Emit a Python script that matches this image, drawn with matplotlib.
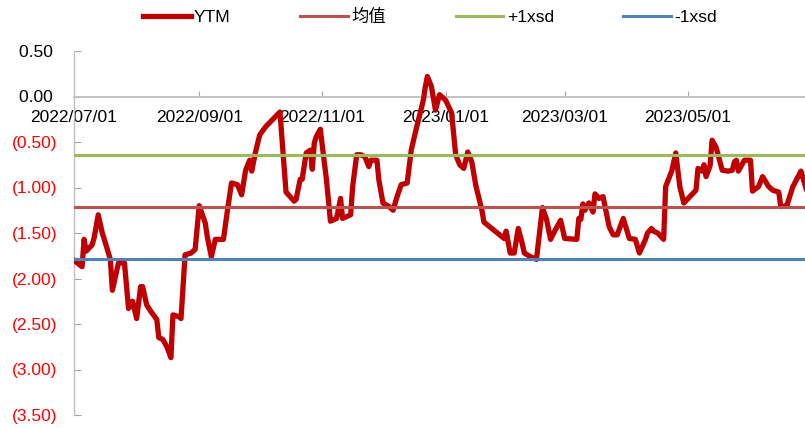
import numpy as np
import pandas as pd
import matplotlib
matplotlib.use("Agg")
import matplotlib.pyplot as plt
import matplotlib.dates as mdates

plt.rcParams["font.family"] = ["Liberation Sans", "Noto Sans CJK SC", "DejaVu Sans"]

# YTM series
dates = ["2022-07-01", "2022-07-05", "2022-07-06", "2022-07-07", "2022-07-10", "2022-07-11",
         "2022-07-13", "2022-07-15", "2022-07-16", "2022-07-19", "2022-07-20", "2022-07-23",
         "2022-07-26", "2022-07-28", "2022-07-30", "2022-08-01", "2022-08-03", "2022-08-04",
         "2022-08-06", "2022-08-08", "2022-08-11", "2022-08-12", "2022-08-14", "2022-08-16",
         "2022-08-18", "2022-08-19", "2022-08-22", "2022-08-23", "2022-08-25", "2022-08-28",
         "2022-08-30", "2022-09-01", "2022-09-04", "2022-09-05", "2022-09-07", "2022-09-09",
         "2022-09-13", "2022-09-15", "2022-09-17", "2022-09-20", "2022-09-22", "2022-09-24",
         "2022-09-26", "2022-09-27", "2022-09-29", "2022-10-01", "2022-10-04", "2022-10-11",
         "2022-10-14", "2022-10-18", "2022-10-19", "2022-10-21", "2022-10-22", "2022-10-24",
         "2022-10-26", "2022-10-27", "2022-10-28", "2022-10-29", "2022-10-31", "2022-11-01",
         "2022-11-03", "2022-11-05", "2022-11-08", "2022-11-10", "2022-11-11", "2022-11-15",
         "2022-11-16", "2022-11-18", "2022-11-20", "2022-11-22", "2022-11-24", "2022-11-25",
         "2022-11-28", "2022-11-29", "2022-12-01", "2022-12-04", "2022-12-06", "2022-12-08",
         "2022-12-10", "2022-12-13", "2022-12-15", "2022-12-17", "2022-12-21", "2022-12-22",
         "2022-12-23", "2022-12-25", "2022-12-27", "2022-12-29", "2023-01-01", "2023-01-04",
         "2023-01-06", "2023-01-08", "2023-01-10", "2023-01-12", "2023-01-14", "2023-01-16",
         "2023-01-19", "2023-01-20", "2023-01-25", "2023-01-30", "2023-01-31", "2023-02-02",
         "2023-02-04", "2023-02-06", "2023-02-08", "2023-02-09", "2023-02-12", "2023-02-15",
         "2023-02-18", "2023-02-20", "2023-02-22", "2023-02-24", "2023-02-27", "2023-03-01",
         "2023-03-07", "2023-03-08", "2023-03-09", "2023-03-10", "2023-03-11", "2023-03-13",
         "2023-03-15", "2023-03-16", "2023-03-18", "2023-03-20", "2023-03-23", "2023-03-25",
         "2023-03-27", "2023-03-30", "2023-04-02", "2023-04-05", "2023-04-07", "2023-04-10",
         "2023-04-11", "2023-04-13", "2023-04-14", "2023-04-16", "2023-04-19", "2023-04-20",
         "2023-04-23", "2023-04-25", "2023-04-27", "2023-04-29", "2023-05-02", "2023-05-05",
         "2023-05-06", "2023-05-08", "2023-05-09", "2023-05-10", "2023-05-12", "2023-05-13",
         "2023-05-15", "2023-05-18", "2023-05-21", "2023-05-23", "2023-05-24", "2023-05-25",
         "2023-05-26", "2023-05-29", "2023-06-01", "2023-06-02", "2023-06-05", "2023-06-07",
         "2023-06-10", "2023-06-12", "2023-06-15", "2023-06-16", "2023-06-19", "2023-06-22",
         "2023-06-26", "2023-06-28", "2023-06-29"]
ytm = [-1.80, -1.87, -1.57, -1.70, -1.63, -1.55,
       -1.30, -1.50, -1.57, -1.79, -2.13, -1.83,
       -1.83, -2.33, -2.25, -2.44, -2.09, -2.09,
       -2.29, -2.36, -2.45, -2.65, -2.67, -2.75,
       -2.87, -2.40, -2.42, -2.44, -1.74, -1.72,
       -1.68, -1.20, -1.39, -1.54, -1.76, -1.57,
       -1.57, -1.25, -0.95, -0.97, -1.08, -0.81,
       -0.70, -0.82, -0.60, -0.42, -0.33, -0.17,
       -1.05, -1.15, -1.13, -0.91, -0.91, -0.62,
       -0.59, -0.80, -0.51, -0.44, -0.36, -0.55,
       -0.91, -1.37, -1.34, -1.12, -1.34, -1.30,
       -0.99, -0.64, -0.64, -0.66, -0.77, -0.70,
       -0.70, -0.92, -1.17, -1.21, -1.25, -1.10,
       -0.97, -0.95, -0.59, -0.40, -0.04, 0.11,
       0.22, 0.11, -0.15, 0.02, -0.04, -0.18,
       -0.64, -0.75, -0.79, -0.61, -0.72, -0.98,
       -1.25, -1.38, -1.47, -1.56, -1.48, -1.72,
       -1.72, -1.45, -1.62, -1.72, -1.76, -1.79,
       -1.22, -1.35, -1.57, -1.48, -1.36, -1.56,
       -1.57, -1.34, -1.35, -1.18, -1.25, -1.17,
       -1.27, -1.07, -1.12, -1.10, -1.43, -1.52,
       -1.52, -1.34, -1.56, -1.57, -1.72, -1.57,
       -1.50, -1.45, -1.48, -1.50, -1.57, -0.99,
       -0.82, -0.62, -0.99, -1.17, -1.10, -1.03,
       -0.79, -0.82, -0.75, -0.88, -0.76, -0.48,
       -0.56, -0.81, -0.82, -0.81, -0.72, -0.70,
       -0.82, -0.70, -0.70, -1.04, -0.99, -0.88,
       -0.99, -1.03, -1.05, -1.21, -1.20, -0.99,
       -0.82, -0.97, -1.05]

mean_val = -1.215
plus_sd = -0.64
minus_sd = -1.79

labels = ["YTM", "均值", "+1xsd", "-1xsd"]
tick_dates = ["2022-07-01", "2022-09-01", "2022-11-01", "2023-01-01", "2023-03-01", "2023-05-01"]
yticks = [0.5, 0.0, -0.5, -1.0, -1.5, -2.0, -2.5, -3.0, -3.5]

x = pd.to_datetime(dates)

fig = plt.figure(figsize=(8.05, 4.28), dpi=100)
ax = fig.add_axes([74/805, 13/428, 731/805, 364/428])

l1, = ax.plot(x, ytm, color="#C00000", lw=3.8, solid_joinstyle="round", zorder=3, label=labels[0])
l2 = ax.axhline(mean_val, color="#C0504D", lw=2.2, zorder=4, label=labels[1])
l3 = ax.axhline(plus_sd, color="#9BBB59", lw=2.2, zorder=4, label=labels[2])
l4 = ax.axhline(minus_sd, color="#4F81BD", lw=2.2, zorder=4, label=labels[3])

ax.set_xlim(pd.Timestamp("2022-07-01"), pd.Timestamp("2023-06-28"))
ax.set_ylim(-3.5, 0.5)

for s in ("top", "right"):
    ax.spines[s].set_visible(False)
ax.spines["bottom"].set_position(("data", 0))
ax.spines["bottom"].set_color("#BFBFBF")
ax.spines["bottom"].set_linewidth(1.3)
ax.spines["left"].set_color("#BFBFBF")
ax.spines["left"].set_linewidth(1.0)

ax.set_xticks(pd.to_datetime(tick_dates))
ax.xaxis.set_major_formatter(mdates.DateFormatter("%Y/%m/%d"))
ax.tick_params(axis="x", direction="in", length=4, color="#A6A6A6", pad=10, labelsize=12.5)

ax.set_yticks(yticks)
ylabs = [(f"{v:.2f} " if v >= 0 else f"({-v:.2f})") for v in yticks]
ax.set_yticklabels(ylabs)
ax.tick_params(axis="y", direction="in", length=5, color="#A6A6A6", pad=12, labelsize=12.5)
for lab, v in zip(ax.get_yticklabels(), yticks):
    lab.set_color("black" if v >= 0 else "#FF0000")

fig.legend([l1, l2, l3, l4], labels, loc="center", bbox_to_anchor=(430/805, 1 - 17/428),
           ncol=4, frameon=False, fontsize=12.5, handlelength=2.75, handletextpad=0.2,
           columnspacing=4.0, borderpad=0)

fig.savefig("out.png", dpi=100)
